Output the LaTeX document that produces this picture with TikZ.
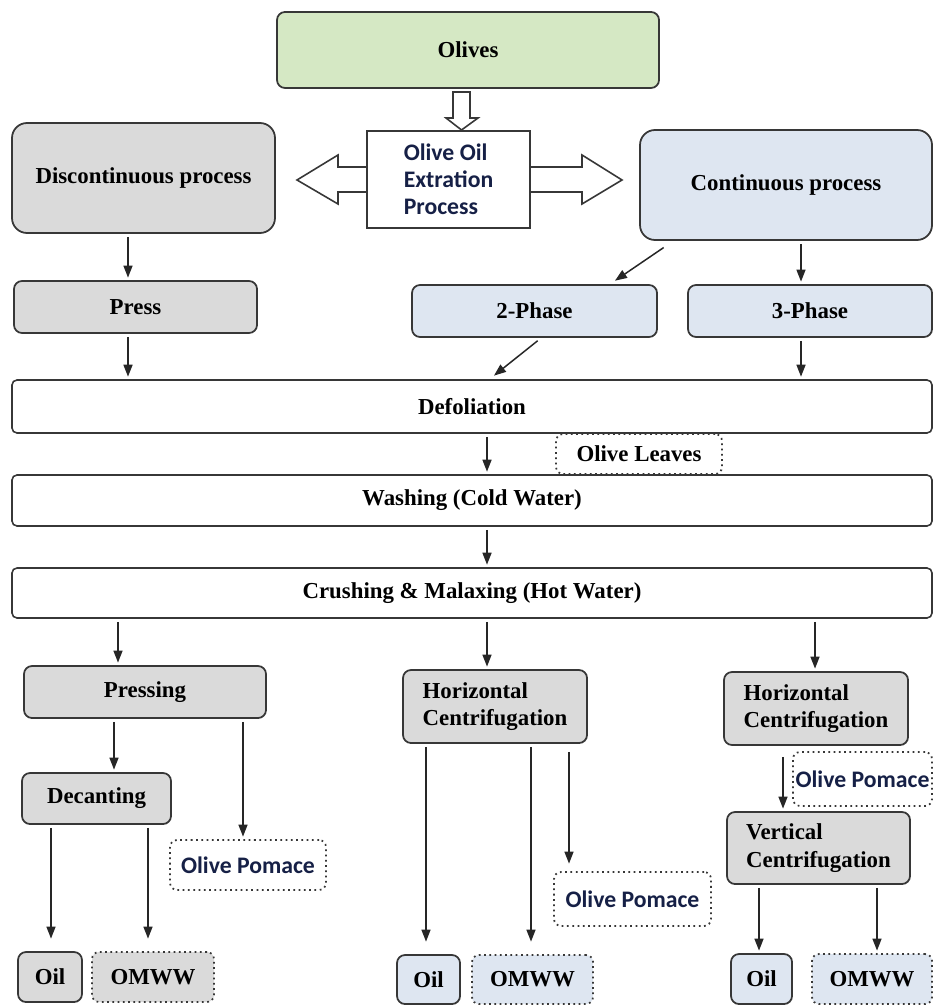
\documentclass[tikz,border=0pt]{standalone}
\usepackage{fontspec}
\setmainfont{Liberation Serif}
\newfontfamily\sansbox{Carlito}
\usetikzlibrary{arrows.meta,calc}
\definecolor{olivegreen}{RGB}{213,232,196}
\definecolor{boxgrey}{RGB}{218,218,218}
\definecolor{boxblue}{RGB}{222,230,241}
\definecolor{edgegrey}{RGB}{55,55,55}
\definecolor{navytext}{RGB}{22,32,70}
\tikzset{
  sz/.style 2 args={minimum width=#1*0.02cm, minimum height=#2*0.02cm},
  box/.style={draw=edgegrey, line width=1pt, rounded corners=0.16cm, inner sep=0pt,
    font=\fontsize{13}{15.5}\selectfont\bfseries, align=center},
  greybox/.style={box, fill=boxgrey},
  bluebox/.style={box, fill=boxblue},
  widebox/.style={box, fill=white, rounded corners=0.1cm, line width=0.9pt},
  waste/.style={box, dotted, line width=1pt, rounded corners=0.14cm},
  pomace/.style={waste, fill=white, text=navytext, font=\sansbox\fontsize{13.5}{16}\selectfont\bfseries},
  arr/.style={-{Triangle[length=0.24cm,width=0.18cm]}, line width=0.85pt, draw=black!85,
    shorten <=0.06cm, shorten >=0.05cm},
  hollow/.style={draw=edgegrey, line width=0.9pt, fill=white}
}
\begin{document}
\begin{tikzpicture}[x=0.02cm,y=-0.02cm]
  \useasboundingbox (0,0) rectangle (934,1006);

  % top of the chart
  \node[box, fill=olivegreen, sz={382}{76}] (olives) at (468,50) {Olives};
  \draw[hollow] (297,180) -- (338,155) -- (338,167) -- (582,167) -- (582,155) -- (622,180)
    -- (582,204) -- (582,192) -- (338,192) -- (338,204) -- cycle;
  \draw[hollow] (453,92) -- (470,92) -- (470,118) -- (478,118) -- (461.5,130)
    -- (446,118) -- (453,118) -- cycle;
  \node[draw=edgegrey, line width=0.9pt, fill=white, sz={163}{97}, align=left, text=navytext,
    font=\sansbox\fontsize{13.5}{15.5}\selectfont\bfseries, xshift=-0.2cm] (extract) at (458.5,179.5)
    {Olive Oil\\Extration\\Process};
  \node[greybox, sz={263}{110}, rounded corners=0.3cm] (disc) at (143.5,178) {Discontinuous process};
  \node[bluebox, sz={292}{110}, rounded corners=0.3cm] (cont) at (786,185) {Continuous process};

  \node[greybox, sz={243}{52}] (press) at (135.5,307) {Press};
  \node[bluebox, sz={245}{52}] (ph2) at (534.5,311) {2-Phase};
  \node[bluebox, sz={244}{52}] (ph3) at (810,311) {3-Phase};

  % common steps
  \node[widebox, sz={920}{53}] (defol) at (472,406.5) {Defoliation};
  \node[waste, sz={166}{40}] (leaves) at (639,454) {Olive Leaves};
  \node[widebox, sz={920}{51}] (wash) at (472,500.5) {Washing (Cold Water)};
  \node[widebox, sz={920}{50}] (crush) at (472,593) {Crushing \& Malaxing (Hot Water)};

  % pressing line
  \node[greybox, sz={242}{52}] (pressing) at (145,692) {Pressing};
  \node[greybox, sz={149}{51}] (decant) at (96.5,798.5) {Decanting};
  \node[pomace, sz={156}{50}] (pom1) at (248,865) {Olive Pomace};
  \node[greybox, sz={64}{50}] (oil1) at (50,977) {Oil};
  \node[waste, fill=boxgrey, sz={122}{50}] (omww1) at (153,977) {OMWW};

  % 2-phase line
  \node[greybox, sz={184}{73}, align=left] (hc1) at (495,706.5) {Horizontal\\Centrifugation};
  \node[pomace, sz={157}{54}] (pom2) at (632.5,899) {Olive Pomace};
  \node[bluebox, sz={63}{49}] (oil2) at (428.5,979.5) {Oil};
  \node[waste, fill=boxblue, sz={121}{49}] (omww2) at (532.5,979.5) {OMWW};

  % 3-phase line
  \node[greybox, sz={184}{73}, align=left] (hc2) at (816,708.5) {Horizontal\\Centrifugation};
  \node[pomace, sz={139}{54}] (pom3) at (862.5,779) {Olive Pomace};
  \node[greybox, sz={183}{72}, align=left] (vc) at (818.5,848) {Vertical\\Centrifugation};
  \node[bluebox, sz={61}{50}] (oil3) at (761.5,979) {Oil};
  \node[waste, fill=boxblue, sz={120}{50}] (omww3) at (872,979) {OMWW};

  % columns of the arrows
  \coordinate (xa) at (128,0);
  \coordinate (xc) at (801,0);
  \coordinate (xm) at (487,0);
  \coordinate (xl) at (118,0);
  \coordinate (xr) at (815,0);
  \coordinate (xd) at (114,0);
  \coordinate (xp) at (243,0);
  \coordinate (xo1) at (51,0);
  \coordinate (xw1) at (148,0);
  \coordinate (xo2) at (426,0);
  \coordinate (xw2) at (531,0);
  \coordinate (xq2) at (569,0);
  \coordinate (xh) at (783,0);
  \coordinate (xo3) at (759,0);
  \coordinate (xw3) at (877,0);

  \draw[arr] (disc.south -| xa) -- (press.north -| xa);
  \draw[arr] ($(cont.south west)+(27,5)$) -- ($(ph2.north east)+(-45,-2)$);
  \draw[arr] (cont.south -| xc) -- (ph3.north -| xc);
  \draw[arr] (press.south -| xa) -- (defol.north -| xa);
  \draw[arr] ($(ph2.south)+(5.5,1)$) -- ($(defol.north)+(20,-2)$);
  \draw[arr] (ph3.south -| xc) -- (defol.north -| xc);
  \draw[arr] (defol.south -| xm) -- (wash.north -| xm);
  \draw[arr] (wash.south -| xm) -- (crush.north -| xm);

  \draw[arr] (crush.south -| xl) -- (pressing.north -| xl);
  \draw[arr] (crush.south -| xm) -- (hc1.north -| xm);
  \draw[arr] (crush.south -| xr) -- (hc2.north -| xr);

  \draw[arr] (pressing.south -| xd) -- (decant.north -| xd);
  \draw[arr] (pressing.south -| xp) -- (pom1.north -| xp);
  \draw[arr] (decant.south -| xo1) -- ($(oil1.north -| xo1)+(0,-10)$);
  \draw[arr] (decant.south -| xw1) -- ($(omww1.north -| xw1)+(0,-10)$);

  \draw[arr] (hc1.south -| xo2) -- ($(oil2.north -| xo2)+(0,-10)$);
  \draw[arr] (hc1.south -| xw2) -- ($(omww2.north -| xw2)+(0,-10)$);
  \draw[arr] ($(hc1.south -| xq2)+(0,5)$) -- ($(pom2.north -| xq2)+(0,-5)$);

  \draw[arr] ($(hc2.south -| xh)+(0,8)$) -- (vc.north -| xh);
  \draw[arr] (vc.south -| xo3) -- (oil3.north -| xo3);
  \draw[arr] (vc.south -| xw3) -- (omww3.north -| xw3);
\end{tikzpicture}
\end{document}
